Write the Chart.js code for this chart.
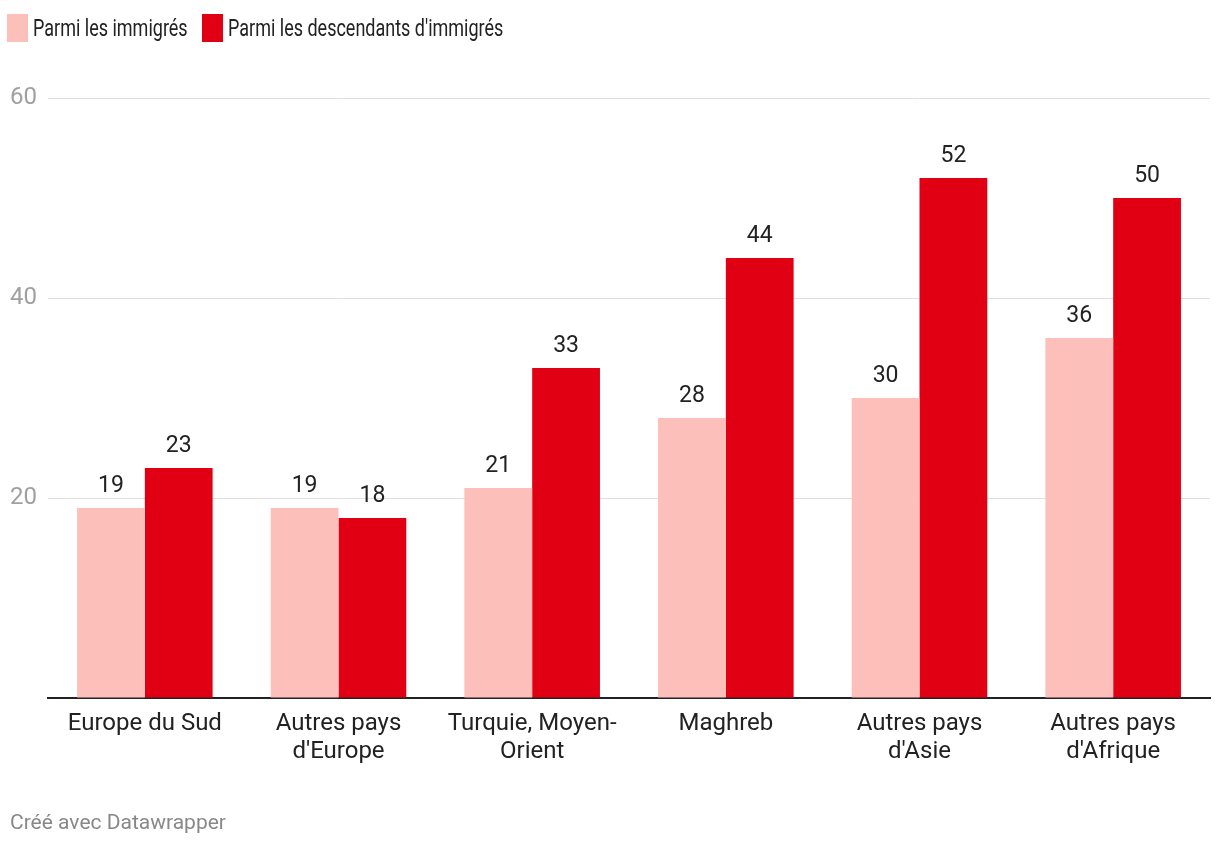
<!DOCTYPE html>
<html lang="fr">
<head>
<meta charset="utf-8">
<title>Parmi les immigrés / descendants d'immigrés</title>
<script src="https://cdn.jsdelivr.net/npm/chart.js@4.4.1/dist/chart.umd.min.js"></script>
<style>
  html, body { margin: 0; padding: 0; background: #fff; }
  body { width: 1220px; height: 848px; position: relative; overflow: hidden; font-family: Roboto, "Noto Sans", sans-serif; }
  #wrap { position: absolute; left: 0; top: 0; width: 1220px; height: 848px; }
  .legend { position: absolute; top: 14px; left: 7px; height: 28px; display: flex; align-items: center; }
  .legend .item { display: flex; align-items: center; flex-shrink: 0; }
  .legend .box { width: 21px; height: 28px; display: block; flex-shrink: 0; }
  .legend .txt { display: block; flex-shrink: 0; font-size: 24px; color: #222; transform: scaleX(0.75); transform-origin: left center; white-space: nowrap; margin-left: 5px; }
  .footer { position: absolute; left: 10px; top: 810px; font-size: 21px; color: #888; }
</style>
</head>
<body>
<div id="wrap"><canvas id="chart" width="1220" height="848"></canvas></div>
<div class="legend" id="legend"></div>
<div class="footer">Créé avec Datawrapper</div>
<script>
var categories = [
  ['Europe du Sud'],
  ['Autres pays', "d'Europe"],
  ['Turquie, Moyen-', 'Orient'],
  ['Maghreb'],
  ['Autres pays', "d'Asie"],
  ['Autres pays', "d'Afrique"]
];
var immigres = [19, 19, 21, 28, 30, 36];
var descendants = [23, 18, 33, 44, 52, 50];
var seriesNames = ['Parmi les immigrés', "Parmi les descendants d'immigrés"];
var seriesColors = ['#fdbfb9', '#e10013'];
var yTicks = [20, 40, 60];

// legend
var legend = document.getElementById('legend');
var legendWidths = [195, 320];
seriesNames.forEach(function (name, i) {
  var item = document.createElement('div');
  item.className = 'item';
  item.style.width = legendWidths[i] + 'px';
  var box = document.createElement('span');
  box.className = 'box';
  box.style.background = seriesColors[i];
  var txt = document.createElement('span');
  txt.className = 'txt';
  txt.textContent = name;
  item.appendChild(box);
  item.appendChild(txt);
  legend.appendChild(item);
});

var valueLabels = {
  id: 'valueLabels',
  afterDatasetsDraw: function (chart) {
    var ctx = chart.ctx;
    ctx.save();
    ctx.font = '23px Roboto';
    ctx.fillStyle = '#222';
    ctx.textAlign = 'center';
    ctx.textBaseline = 'alphabetic';
    chart.data.datasets.forEach(function (ds, i) {
      chart.getDatasetMeta(i).data.forEach(function (bar, j) {
        ctx.fillText(String(ds.data[j]), bar.x, bar.y - 16);
      });
    });
    ctx.restore();
  }
};

var ctx = document.getElementById('chart').getContext('2d');
var chart = new Chart(ctx, {
  type: 'bar',
  data: {
    labels: categories,
    datasets: [{
      label: seriesNames[0],
      data: immigres,
      backgroundColor: seriesColors[0],
      categoryPercentage: 0.7,
      barPercentage: 1.0
    }, {
      label: seriesNames[1],
      data: descendants,
      backgroundColor: seriesColors[1],
      categoryPercentage: 0.7,
      barPercentage: 1.0
    }]
  },
  options: {
    responsive: false,
    animation: false,
    layout: { padding: { top: 98, left: 10, right: 10, bottom: 0 } },
    plugins: {
      legend: { display: false },
      tooltip: { enabled: false }
    },
    scales: {
      x: {
        grid: { display: false },
        border: { display: true, color: '#222', width: 2 },
        ticks: {
          color: '#222',
          font: { family: 'Roboto', size: 24, lineHeight: 1.17 },
          padding: 4,
          maxRotation: 0,
          autoSkip: false
        },
        afterFit: function (s) { s.height = 150; }
      },
      y: {
        min: 0,
        max: 60,
        afterBuildTicks: function (s) {
          s.ticks = [0].concat(yTicks).map(function (v) { return { value: v }; });
        },
        grid: {
          color: function (c) { return c.tick && c.tick.value === 0 ? 'rgba(0,0,0,0)' : '#e0e0e0'; },
          lineWidth: 1,
          drawTicks: false
        },
        border: { display: false },
        ticks: {
          color: '#a0a0a0',
          font: { family: 'Roboto', size: 24 },
          crossAlign: 'far',
          padding: 0,
          callback: function (v) { return v === 0 ? '' : v; }
        },
        afterFit: function (s) { s.width = 38; }
      }
    }
  },
  plugins: [valueLabels]
});
</script>
</body>
</html>
